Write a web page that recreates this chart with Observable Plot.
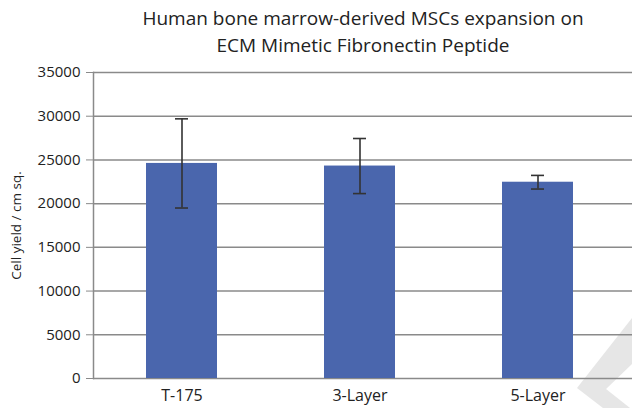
<!DOCTYPE html>
<html>
<head>
<meta charset="utf-8">
<script src="https://cdn.jsdelivr.net/npm/d3@7"></script>
<script src="https://cdn.jsdelivr.net/npm/@observablehq/plot@0.6"></script>
<style>
  html, body { margin: 0; padding: 0; background: #fff; }
  #wrap { position: relative; width: 632px; height: 408px; overflow: hidden; font-family: "Open Sans", "Noto Sans", sans-serif; }
  #title { position: absolute; left: 94px; right: 0; top: 5px; text-align: center; font-size: 19px; line-height: 27px; color: #222; }
  #chart { position: absolute; left: 0; top: 60px; }
  #mark { position: absolute; left: 0; top: 0; }
</style>
</head>
<body>
<div id="wrap">
  <svg id="mark" width="632" height="408"><polygon points="632,318 577,388 603,408 630,408 606,389 632,364" fill="#e6e6e6"/></svg>
  <div id="title">Human bone marrow-derived MSCs expansion on<br>ECM Mimetic Fibronectin Peptide</div>
  <div id="chart"></div>
</div>
<script>
const categories = ["T-175", "3-Layer", "5-Layer"];
const values = [24600, 24300, 22450];
const errors = [5100, 3150, 780];
const yTicks = [0, 5000, 10000, 15000, 20000, 25000, 30000, 35000];
const yLabel = "Cell yield / cm sq.";

const data = categories.map((c, i) => ({cat: c, value: values[i], err: errors[i]}));
const grid = "#8a8a8a";

const chart = Plot.plot({
  width: 632,
  height: 348,
  marginTop: 12,
  marginBottom: 30,
  marginLeft: 93,
  marginRight: 5,
  style: {background: "transparent", fontFamily: "'Open Sans', 'Noto Sans', sans-serif", color: "#222"},
  x: {domain: categories, paddingInner: 0.6, paddingOuter: 0.3, label: null},
  y: {domain: [0, 35000], label: null},
  marks: [
    Plot.ruleY(yTicks, {stroke: grid, strokeWidth: 1.5, insetRight: -5}),
    Plot.axisY({ticks: yTicks, tickSize: 7, tickPadding: 6, stroke: grid, fontSize: 15, tickFormat: d => String(d), label: null}),
    Plot.axisX({tickSize: 0, tickPadding: 11, fontSize: 16, label: null}),
    Plot.barY(data, {x: "cat", y: "value", fill: "#4a66ad"}),
    Plot.ruleX(data, {x: "cat", y1: d => d.value - d.err, y2: d => d.value + d.err, stroke: "#333", strokeWidth: 1.6}),
    Plot.tickY(data, {x: "cat", y: d => d.value + d.err, stroke: "#333", strokeWidth: 1.6, insetLeft: 29, insetRight: 29}),
    Plot.tickY(data, {x: "cat", y: d => d.value - d.err, stroke: "#333", strokeWidth: 1.6, insetLeft: 29, insetRight: 29}),
    Plot.frame({anchor: "left", stroke: grid, strokeWidth: 1.5}),
    Plot.text([yLabel], {frameAnchor: "left", textAnchor: "middle", rotate: -90, dx: -77, fontSize: 13.5, fill: "#222"})
  ]
});
document.getElementById("chart").appendChild(chart);
</script>
</body>
</html>
